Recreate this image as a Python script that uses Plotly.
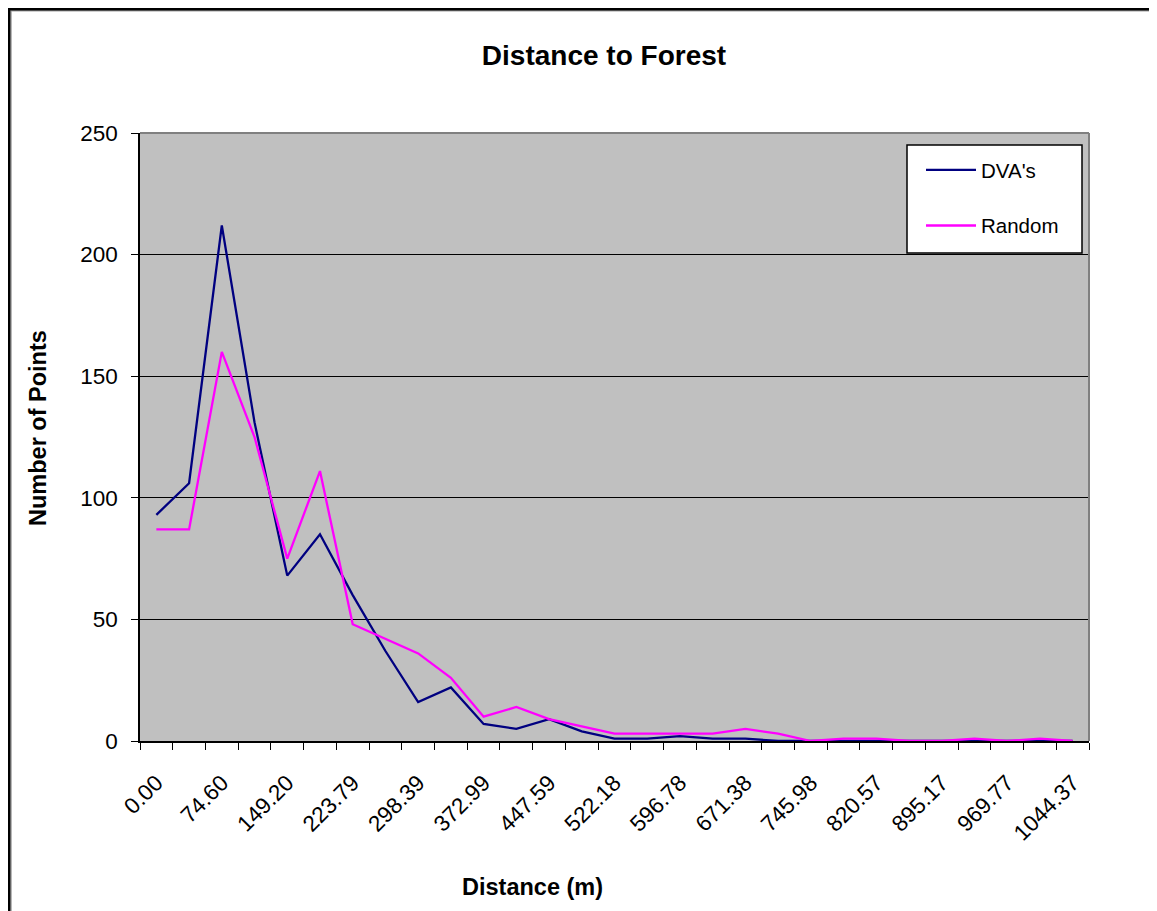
import plotly.graph_objects as go

# ---- data ----
categories = ["0.00", "37.30", "74.60", "111.90", "149.20", "186.49", "223.79", "261.09",
              "298.39", "335.69", "372.99", "410.29", "447.59", "484.88", "522.18", "559.48",
              "596.78", "634.08", "671.38", "708.68", "745.98", "783.28", "820.57", "857.87",
              "895.17", "932.47", "969.77", "1007.07", "1044.37"]
dva_values = [93, 106, 212, 131, 68, 85, 60, 37, 16, 22, 7, 5, 9, 4, 1, 1, 2, 1, 1, 0,
              0, 0, 0, 0, 0, 0, 0, 0, 0]
random_values = [87, 87, 160, 125, 75, 111, 48, 42, 36, 26, 10, 14, 9, 6, 3, 3, 3, 3, 5, 3,
                 0, 1, 1, 0, 0, 1, 0, 1, 0]
shown_tick_labels = [c if i % 2 == 0 else "" for i, c in enumerate(categories)]
y_ticks = [0, 50, 100, 150, 200, 250]

FONT = "Liberation Sans, Arial, sans-serif"

# page offset of the figure inside the browser page (body margin)
OFF = 8
W, H = 1157 - OFF, 911 - OFF
# plot area in page pixels (reference) -> figure pixels
L, R, T, B = 140 - OFF, 1089 - OFF, 133 - OFF, 741 - OFF
pw, ph = R - L, B - T

def px_x(x):
    """page x pixel -> paper coordinate"""
    return (x - OFF - L) / pw

def px_y(y):
    """page y pixel -> paper coordinate"""
    return (B - (y - OFF)) / ph

fig = go.Figure()
fig.add_trace(go.Scatter(x=categories, y=dva_values, mode="lines", name="DVA's",
                         line=dict(color="#000080", width=2.3), legendgroup="a"))
fig.add_trace(go.Scatter(x=categories, y=random_values, mode="lines", name="Random",
                         line=dict(color="#FF00FF", width=2.3), legendgroup="b"))

fig.update_layout(
    width=W, height=H,
    margin=dict(l=L, r=W - R, t=T, b=H - B, pad=0),
    paper_bgcolor="white",
    plot_bgcolor="#C0C0C0",
    font=dict(family=FONT, size=20, color="black"),
    title=dict(text="Distance to Forest", x=(604 - OFF) / W, xref="container",
               xanchor="center", y=1 - (55 - OFF) / H, yref="container", yanchor="middle",
               font=dict(family=FONT, size=28, color="black", weight="bold")),
    showlegend=True,
    legend=dict(x=px_x(921), y=px_y(150), xanchor="left", yanchor="top",
                bgcolor="rgba(0,0,0,0)", borderwidth=0,
                font=dict(family=FONT, size=20.5, color="black"),
                tracegroupgap=26, itemwidth=50),
    xaxis=dict(type="category", range=[-0.5, 28.5], tickson="boundaries",
               tickmode="array", tickvals=categories, ticktext=shown_tick_labels,
               tickangle=-45, ticks="outside", ticklen=7, tickcolor="black", tickwidth=1,
               showline=True, linecolor="black", linewidth=1.5, showgrid=False,
               zeroline=False, ticklabelstandoff=18,
               tickfont=dict(family=FONT, size=22.5, color="black")),
    yaxis=dict(range=[0, 250], tickmode="array", tickvals=y_ticks,
               ticks="outside", ticklen=7, tickcolor="black", tickwidth=1,
               showline=True, linecolor="black", linewidth=1.5,
               showgrid=True, gridcolor="black", gridwidth=1, zeroline=False,
               ticklabelstandoff=9,
               tickfont=dict(family=FONT, size=22.5, color="black")),
    shapes=[
        # plot area border (top, right) in gray
        dict(type="line", xref="paper", yref="paper", x0=0, x1=1, y0=1, y1=1,
             line=dict(color="#808080", width=2)),
        dict(type="line", xref="paper", yref="paper", x0=1, x1=1, y0=0, y1=1,
             line=dict(color="#808080", width=2)),
        # legend box
        dict(type="rect", xref="paper", yref="paper", x0=px_x(907), x1=px_x(1082),
             y0=px_y(253), y1=px_y(145), fillcolor="white",
             line=dict(color="black", width=1.5), layer="above"),
        # outer chart frame (left and top) with shadow
        dict(type="line", xref="paper", yref="paper", x0=px_x(11), x1=px_x(11),
             y0=px_y(10.5), y1=px_y(930), line=dict(color="#A0A0A0", width=1.5)),
        dict(type="line", xref="paper", yref="paper", x0=px_x(11), x1=px_x(1170),
             y0=px_y(10.8), y1=px_y(10.8), line=dict(color="#A0A0A0", width=1.5)),
        dict(type="line", xref="paper", yref="paper", x0=px_x(9.2), x1=px_x(9.2),
             y0=px_y(8), y1=px_y(930), line=dict(color="black", width=2.5)),
        dict(type="line", xref="paper", yref="paper", x0=px_x(8), x1=px_x(1170),
             y0=px_y(9.2), y1=px_y(9.2), line=dict(color="black", width=2.5)),
    ],
    annotations=[
        dict(text="Number of Points", xref="paper", yref="paper", x=px_x(38), y=px_y(428),
             textangle=-90, showarrow=False, xanchor="center", yanchor="middle",
             font=dict(family=FONT, size=23.5, color="black", weight="bold")),
        dict(text="Distance (m)", xref="paper", yref="paper", x=px_x(532), y=px_y(887),
             showarrow=False, xanchor="center", yanchor="middle",
             font=dict(family=FONT, size=23.5, color="black", weight="bold")),
    ],
)

fig.write_html("out.html")
